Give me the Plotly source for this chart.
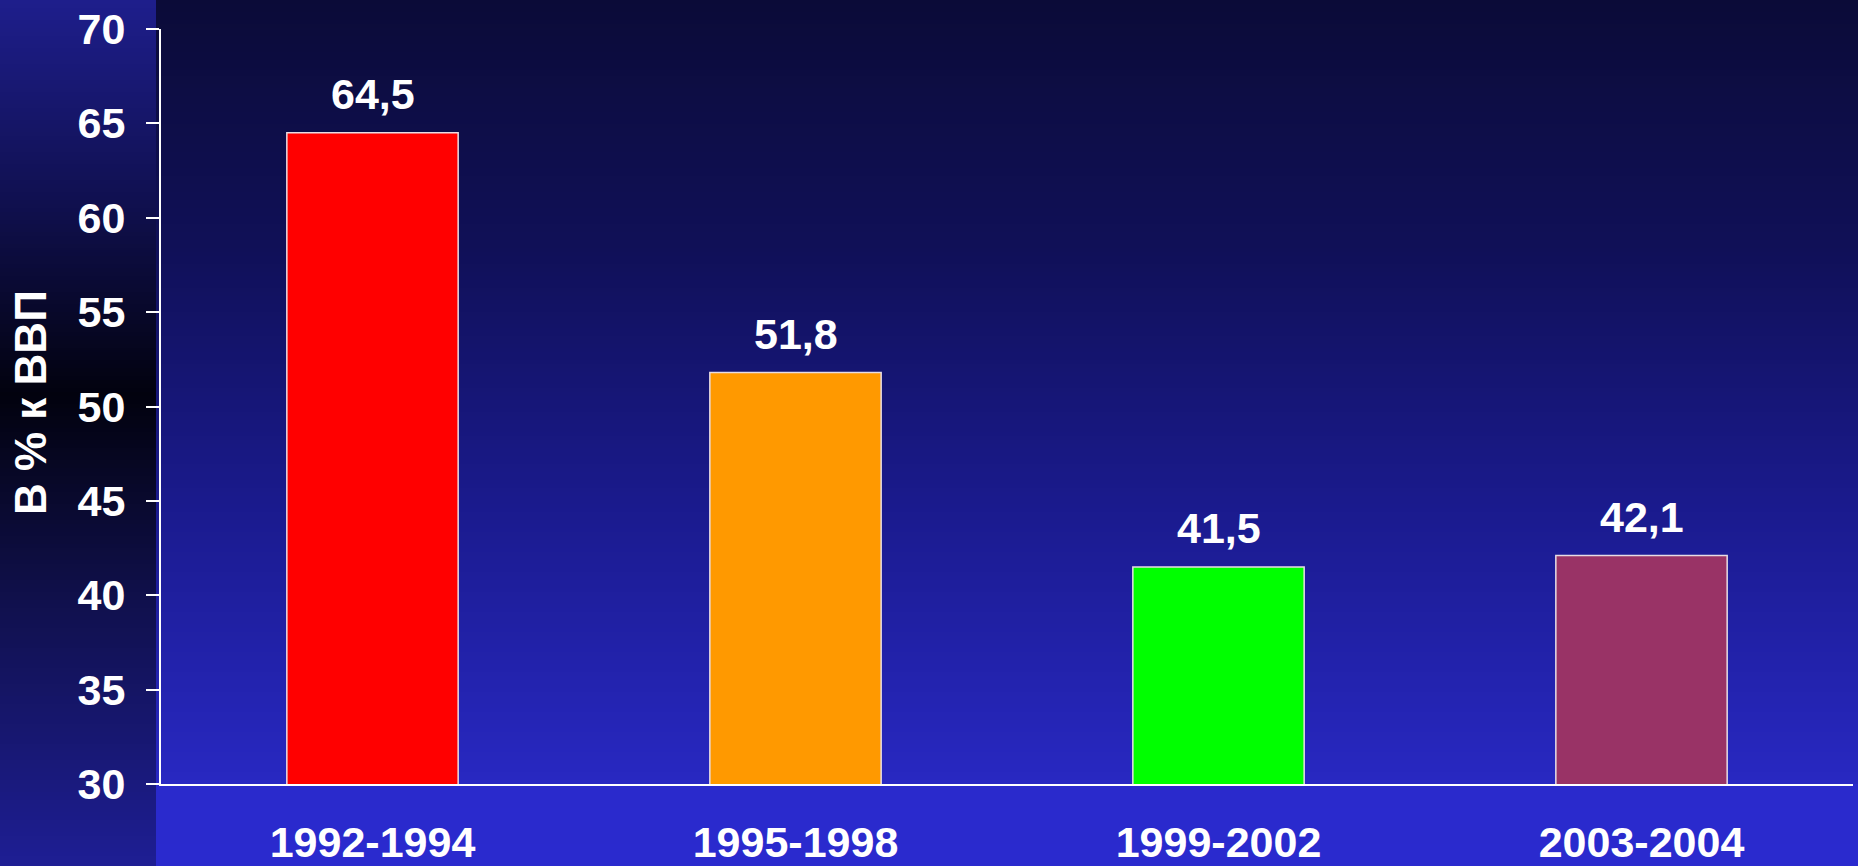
import plotly.graph_objects as go

categories = ["1992-1994", "1995-1998", "1999-2002", "2003-2004"]
values = [64.5, 51.8, 41.5, 42.1]
bar_colors = ["#ff0000", "#ff9900", "#00ff00", "#993366"]
y_title = "В % к ВВП"

W, H = 1858, 866
L, R, T, B = 161, 5, 29, 82
PW, PH = W - L - R, H - T - B
FONT = "Arial, Liberation Sans, sans-serif"


def px_x(p):
    return (p - L) / PW


def px_y(p):
    return (H - B - p) / PH


def interp(stops, y):
    for (y0, c0), (y1, c1) in zip(stops, stops[1:]):
        if y0 <= y <= y1:
            t = (y - y0) / (y1 - y0) if y1 > y0 else 0
            return "rgb(%d,%d,%d)" % tuple(round(a + (b - a) * t) for a, b in zip(c0, c1))
    return "rgb(%d,%d,%d)" % stops[-1][1]


main_stops = [(0, (11, 11, 56)), (250, (16, 16, 88)), (500, (26, 26, 140)),
              (784, (40, 40, 194)), (786, (42, 42, 204)), (866, (42, 42, 206))]
left_stops = [(0, (30, 30, 140)), (200, (16, 16, 80)), (395, (2, 2, 14)),
              (600, (16, 16, 76)), (866, (30, 30, 148))]

shapes = []
step = 4
for y in range(0, H, step):
    yc = y + step / 2
    shapes.append(dict(type="rect", xref="paper", yref="paper", layer="below",
                       x0=px_x(156), x1=px_x(W + 2), y0=px_y(y + step + 0.5), y1=px_y(y),
                       fillcolor=interp(main_stops, yc), line_width=0))
    shapes.append(dict(type="rect", xref="paper", yref="paper", layer="below",
                       x0=px_x(-2), x1=px_x(156), y0=px_y(y + step + 0.5), y1=px_y(y),
                       fillcolor=interp(left_stops, yc), line_width=0))

fig = go.Figure(go.Bar(
    x=categories, y=values,
    marker=dict(color=bar_colors, line=dict(color="#e8dde4", width=1.5)),
    width=0.405, hoverinfo="skip",
))

label_font = dict(family=FONT, size=43, color="white", weight="bold")
annotations = [dict(x=c, y=v, xref="x", yref="y", text=f"{v:.1f}".replace(".", ","),
                    showarrow=False, yanchor="bottom", yshift=13, font=label_font)
               for c, v in zip(categories, values)]
annotations.append(dict(x=px_x(30), y=px_y(403), xref="paper", yref="paper",
                        xanchor="center", yanchor="middle",
                        text=y_title, textangle=-90, showarrow=False,
                        font=dict(family=FONT, size=44, color="white", weight="bold")))

fig.update_layout(
    width=W, height=H,
    margin=dict(l=L, r=R, t=T, b=B, autoexpand=False),
    paper_bgcolor="#1a1a80", plot_bgcolor="rgba(0,0,0,0)",
    font=dict(family=FONT, color="white", size=40),
    shapes=shapes, annotations=annotations, showlegend=False,
    xaxis=dict(showline=True, linecolor="white", linewidth=2, showgrid=False,
               ticks="", ticklabelstandoff=19, automargin=False,
               tickfont=dict(family=FONT, size=43, weight="bold", color="white"),
               range=[-0.5, 3.5], fixedrange=True),
    yaxis=dict(range=[30, 70], dtick=5, showline=True, linecolor="white", linewidth=2,
               showgrid=False, zeroline=False, ticks="outside", ticklen=13, tickwidth=2,
               tickcolor="white", ticklabelstandoff=12, automargin=False,
               tickfont=dict(family=FONT, size=43, weight="bold", color="white"),
               fixedrange=True),
)

fig.write_html("out.html", config={"displayModeBar": False},
               post_script="document.body.style.margin='0';document.body.style.overflow='hidden';")
